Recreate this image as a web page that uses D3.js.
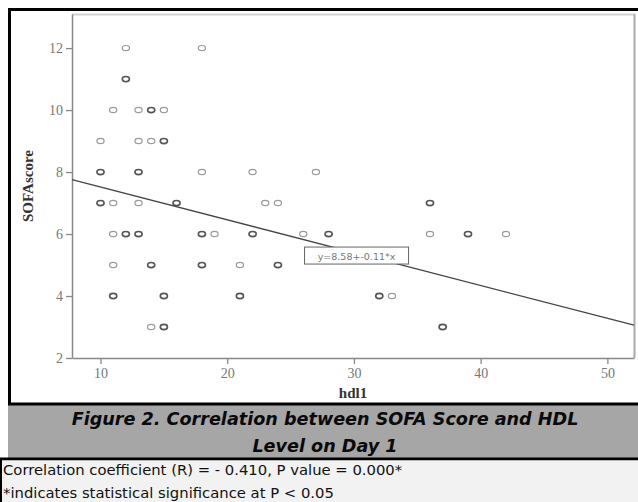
<!DOCTYPE html>
<html>
<head>
<meta charset="utf-8">
<script src="https://cdn.jsdelivr.net/npm/d3@7"></script>
<style>
  body { margin: 0; background: #fff; }
  svg { display: block; }
</style>
</head>
<body>
<div id="chart"></div>
<script>
// Points: HDL on day 1 and the SOFA score
const hdlValues = [12, 18, 12, 11, 13, 14, 15, 10, 13, 14, 15,
  10, 13, 18, 22, 27, 10, 11, 13, 16, 23, 24, 36,
  11, 12, 13, 18, 19, 22, 26, 28, 36, 39, 42,
  11, 14, 18, 21, 24, 11, 15, 21, 32, 33, 14, 15, 37];
const sofaValues = [12, 12, 11, 10, 10, 10, 10, 9, 9, 9, 9,
  8, 8, 8, 8, 8, 7, 7, 7, 7, 7, 7, 7,
  6, 6, 6, 6, 6, 6, 6, 6, 6, 6, 6,
  5, 5, 5, 5, 5, 4, 4, 4, 4, 4, 3, 3, 3];
// 1 where the marker is drawn darker (overlapping cases)
const overlapFlags = [0, 0, 1, 0, 0, 1, 0, 0, 0, 0, 1,
  1, 1, 0, 0, 0, 1, 0, 0, 1, 0, 0, 1,
  0, 1, 1, 1, 0, 1, 0, 1, 0, 1, 0,
  0, 1, 1, 0, 1, 1, 1, 1, 1, 0, 0, 1, 1];

const xTicks = [10, 20, 30, 40, 50];
const yTicks = [2, 4, 6, 8, 10, 12];

// fitted line (label says y=8.58+-0.11*x)
const fitIntercept = 8.58;
const fitSlope = -0.106;
const fitLabel = 'y=8.58+-0.11*x';

const captionLines = ['Figure 2. Correlation between SOFA Score and HDL', 'Level on Day 1'];
const noteLines = ['Correlation coefficient (R) = - 0.410, P value = 0.000*',
  '*indicates statistical significance at P < 0.05'];

const W = 638, H = 502;
const plot = { left: 72, right: 634, top: 14, bottom: 358 };

const svg = d3.select('#chart').append('svg')
  .attr('width', W).attr('height', H);

// outer frame
svg.append('rect').attr('x', 0).attr('y', 0).attr('width', W).attr('height', H).attr('fill', '#fff');
svg.append('line').attr('x1', 8).attr('x2', W).attr('y1', 9.5).attr('y2', 9.5)
  .attr('stroke', '#000').attr('stroke-width', 3);
svg.append('line').attr('x1', 9.5).attr('x2', 9.5).attr('y1', 8).attr('y2', 460)
  .attr('stroke', '#000').attr('stroke-width', 3);

const x = d3.scaleLinear().domain([7.75, 52.1]).range([plot.left, plot.right]);
const y = d3.scaleLinear().domain([2, 13.1]).range([plot.bottom, plot.top]);

// light frame round the plot area
svg.append('line').attr('x1', plot.left).attr('x2', plot.right + 1).attr('y1', plot.top + 0.5).attr('y2', plot.top + 0.5)
  .attr('stroke', '#d4d4d4').attr('stroke-width', 2);
svg.append('line').attr('x1', plot.right + 0.5).attr('x2', plot.right + 0.5).attr('y1', plot.top).attr('y2', plot.bottom)
  .attr('stroke', '#aaa').attr('stroke-width', 2);

// axes
const xAxis = svg.append('g')
  .attr('transform', `translate(0,${plot.bottom})`)
  .call(d3.axisBottom(x).tickValues(xTicks).tickSize(6).tickPadding(4).tickSizeOuter(0));
const yAxis = svg.append('g')
  .attr('transform', `translate(${plot.left},0)`)
  .call(d3.axisLeft(y).tickValues(yTicks).tickSize(6).tickPadding(3).tickSizeOuter(0));

[xAxis, yAxis].forEach((g) => {
  g.select('.domain').attr('stroke', '#888').attr('stroke-width', 1.5);
  g.selectAll('.tick line').attr('stroke', '#888').attr('stroke-width', 1.3);
  g.selectAll('.tick text')
    .attr('fill', '#777')
    .style('font-family', '"Liberation Serif", "DejaVu Serif", serif')
    .style('font-size', '14px');
});

// fitted line
const [x0, x1] = x.domain();
svg.append('line')
  .attr('x1', x(x0)).attr('y1', y(fitIntercept + fitSlope * x0))
  .attr('x2', x(x1)).attr('y2', y(fitIntercept + fitSlope * x1))
  .attr('stroke', '#444').attr('stroke-width', 1.3);

// points
const points = hdlValues.map((h, i) => ({ hdl: h, sofa: sofaValues[i], dark: overlapFlags[i] }));
svg.append('g')
  .selectAll('ellipse')
  .data(points)
  .enter()
  .append('ellipse')
  .attr('cx', (d) => x(d.hdl))
  .attr('cy', (d) => y(d.sofa))
  .attr('rx', 3.6)
  .attr('ry', 2.6)
  .attr('fill', 'none')
  .attr('stroke', (d) => (d.dark ? '#555' : '#9a9a9a'))
  .attr('stroke-width', (d) => (d.dark ? 1.6 : 1.2));

// label of the fitted line
const labelBox = svg.append('g').attr('transform', `translate(${x(26.1)},${y(5.58)})`);
labelBox.append('rect')
  .attr('x', 0).attr('y', 0).attr('width', 104).attr('height', 17)
  .attr('fill', '#fff').attr('stroke', '#666').attr('stroke-width', 1);
labelBox.append('text')
  .attr('x', 52).attr('y', 12.5)
  .attr('text-anchor', 'middle')
  .attr('fill', '#777')
  .style('font-family', '"DejaVu Sans", sans-serif')
  .style('font-size', '9.5px')
  .text(fitLabel);

// axis titles
svg.append('text')
  .attr('transform', 'translate(33,186) rotate(-90)')
  .attr('text-anchor', 'middle')
  .attr('fill', '#333')
  .style('font-family', '"Liberation Serif", serif')
  .style('font-weight', 'bold')
  .style('font-size', '15px')
  .text('SOFAscore');
svg.append('text')
  .attr('x', 353).attr('y', 398)
  .attr('text-anchor', 'middle')
  .attr('fill', '#333')
  .style('font-family', '"Liberation Serif", serif')
  .style('font-weight', 'bold')
  .style('font-size', '15px')
  .text('hdl1');

// caption band
svg.append('rect').attr('x', 8).attr('y', 404).attr('width', W - 8).attr('height', 54)
  .attr('fill', '#a6a6a6');
svg.append('line').attr('x1', 8).attr('x2', W).attr('y1', 404).attr('y2', 404)
  .attr('stroke', '#000').attr('stroke-width', 3);
svg.append('line').attr('x1', 0).attr('x2', W).attr('y1', 459).attr('y2', 459)
  .attr('stroke', '#000').attr('stroke-width', 3);
svg.append('text')
  .attr('x', 325).attr('text-anchor', 'middle')
  .attr('fill', '#0a0a0a')
  .style('font-family', '"DejaVu Sans", sans-serif')
  .style('font-weight', 'bold')
  .style('font-style', 'italic')
  .style('font-size', '17.6px')
  .selectAll('tspan')
  .data(captionLines)
  .enter()
  .append('tspan')
  .attr('x', 325)
  .attr('y', (d, i) => 425 + i * 27)
  .text((d) => d);

// note area below the caption
svg.append('rect').attr('x', 0).attr('y', 460.5).attr('width', W).attr('height', H - 460)
  .attr('fill', '#f2f2f2');
svg.append('line').attr('x1', 1).attr('x2', 1).attr('y1', 460).attr('y2', H)
  .attr('stroke', '#000').attr('stroke-width', 2);
svg.append('text')
  .attr('fill', '#111')
  .style('font-family', '"DejaVu Sans", sans-serif')
  .style('font-size', '14.8px')
  .selectAll('tspan')
  .data(noteLines)
  .enter()
  .append('tspan')
  .attr('x', 3)
  .attr('y', (d, i) => 475 + i * 23)
  .text((d) => d);
</script>
</body>
</html>
